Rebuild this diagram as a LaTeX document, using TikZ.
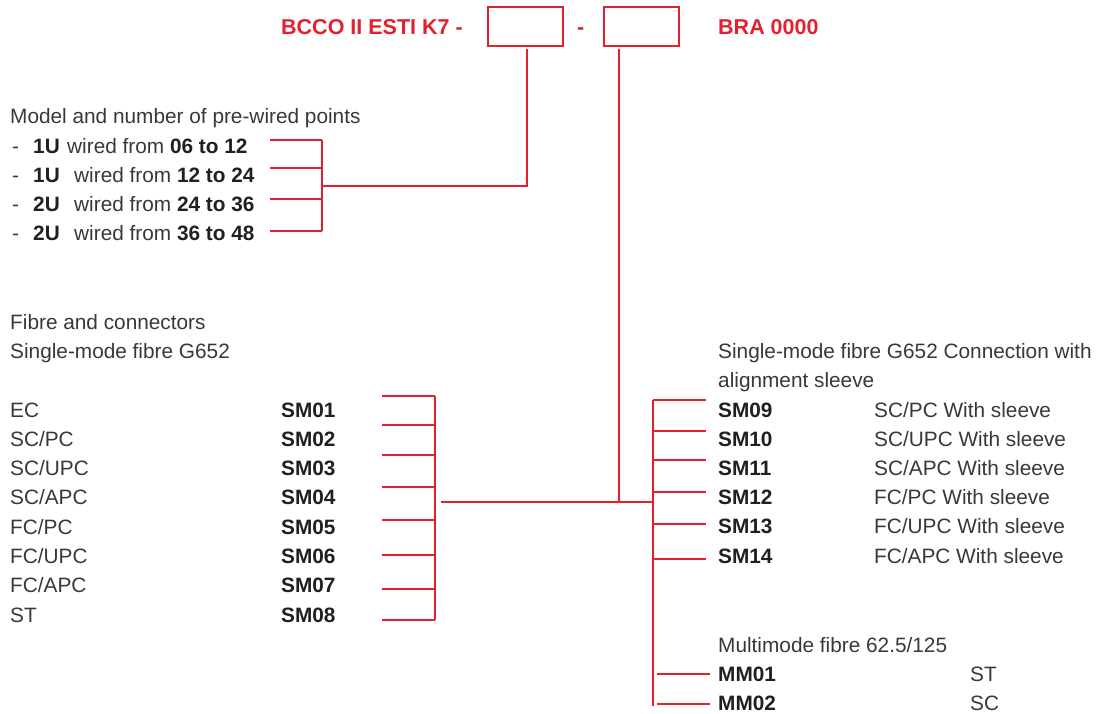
\documentclass[tikz,border=0pt]{standalone}
\usepackage{fontspec}
\setmainfont{Liberation Sans}
\definecolor{orderred}{HTML}{E3202E}
\definecolor{bodygrey}{HTML}{383838}
\definecolor{codegrey}{HTML}{231F20}

\begin{document}
\begin{tikzpicture}[
  x=1pt,
  y=-1pt,
  line join=miter,
  desc/.style={anchor=base west,inner sep=0pt,text=bodygrey,font=\fontsize{20.8}{24}\selectfont},
  code/.style={anchor=base west,inner sep=0pt,text=codegrey,font=\fontsize{20.8}{24}\selectfont\bfseries},
  ordertxt/.style={anchor=base west,inner sep=0pt,text=orderred,font=\fontsize{21.5}{25}\selectfont\bfseries},
  slot/.style={draw=orderred,line width=1.1pt,minimum width=75pt,minimum height=39pt,inner sep=0pt,outer sep=3pt},
  wire/.style={draw=orderred,line width=1.1pt}
]
  \useasboundingbox (0,0) rectangle (1098,714);

  % Order code with its two open slots.
  \node[ordertxt] (prefix) at (281,35) {BCCO II ESTI K7 -};
  \node[slot] (box1) at (525.5,26.5) {};
  \node[ordertxt] (dash) at (577,35) {-};
  \node[slot] (box2) at (641.5,26.5) {};
  \node[ordertxt] (suffix) at (718,35) {BRA 0000};

  % First slot: model and pre-wired points.
  \node[desc] (modeltitle) at (10,124) {Model and number of pre-wired points};
  \foreach \unit/\range/\wx/\ty [count=\i] in {1U/06 to 12/67/140, 1U/12 to 24/74/168, 2U/24 to 36/74/199, 2U/36 to 48/74/231} {
    \pgfmathsetmacro{\by}{124+29.2*\i}
    \node[desc] (modeldash\i) at (12,\by) {-};
    \node[code] (modelunit\i) at (33,\by) {\unit};
    \node[desc] (modelrange\i) at (\wx,\by) {wired from \textcolor{codegrey}{\bfseries\range}};
    \coordinate (modeltick\i) at (270,\ty);
  }
  \coordinate (modelbus) at (322,186);
  \coordinate (modeljoin) at (527,186);
  \foreach \i in {1,...,4} {
    \draw[wire] (modeltick\i) -- (modeltick\i -| modelbus);
  }
  \draw[wire] (modeltick1 -| modelbus) -- (modeltick4 -| modelbus);
  \draw[wire] (modelbus) -- (modeljoin) -- (box1.south -| modeljoin);

  % Second slot, left comb: single-mode connectors.
  \node[desc] (fibtitle1) at (10,329) {Fibre and connectors};
  \node[desc] (fibtitle2) at (10,358) {Single-mode fibre G652};
  \foreach \code/\name/\ty [count=\i] in {SM01/EC/396, SM02/{SC/PC}/425, SM03/{SC/UPC}/455, SM04/{SC/APC}/487, SM05/{FC/PC}/520, SM06/{FC/UPC}/555, SM07/{FC/APC}/589, SM08/ST/620} {
    \pgfmathsetmacro{\by}{417+29.3*(\i-1)}
    \node[desc] (fibname\i) at (10,\by) {\name};
    \node[code] (fibcode\i) at (281,\by) {\code};
    \coordinate (fibtick\i) at (382,\ty);
  }
  \coordinate (fibbus) at (435,502);
  \foreach \i in {1,...,8} {
    \draw[wire] (fibtick\i) -- (fibtick\i -| fibbus);
  }
  \draw[wire] (fibtick1 -| fibbus) -- (fibtick8 -| fibbus);

  \coordinate (fibstub) at (441,502);
  \coordinate (fibjoin) at (619,502);
  \coordinate (sleevebus) at (653,502);
  \coordinate (busend) at (653,706);
  \draw[wire] (fibstub) -- (sleevebus);
  \draw[wire] (box2.south -| fibjoin) -- (fibjoin);

  % Second slot, right comb: sleeve connections and multimode.
  \node[desc] (sleevetitle1) at (718,358) {Single-mode fibre G652 Connection with};
  \node[desc] (sleevetitle2) at (718,387) {alignment sleeve};
  \foreach \code/\name/\ty [count=\i] in {SM09/{SC/PC With sleeve}/400, SM10/{SC/UPC With sleeve}/431, SM11/{SC/APC With sleeve}/460, SM12/{FC/PC With sleeve}/492, SM13/{FC/UPC With sleeve}/524, SM14/{FC/APC With sleeve}/559} {
    \pgfmathsetmacro{\by}{417+29.2*(\i-1)}
    \node[code] (sleevecode\i) at (718,\by) {\code};
    \node[desc] (sleevename\i) at (874,\by) {\name};
    \coordinate (sleevetick\i) at (706,\ty);
    \draw[wire] (sleevetick\i -| sleevebus) -- (sleevetick\i);
  }
  \draw[wire] (sleevetick1 -| sleevebus) -- (busend);

  \node[desc] (mmtitle) at (718,652) {Multimode fibre 62.5/125};
  \foreach \code/\name/\ty [count=\i] in {MM01/ST/674, MM02/SC/704} {
    \pgfmathsetmacro{\by}{681+29.2*(\i-1)}
    \node[code] (mmcode\i) at (718,\by) {\code};
    \node[desc] (mmname\i) at (970,\by) {\name};
    \coordinate (mmtick\i) at (710,\ty);
    \draw[wire] ([xshift=4pt]mmtick\i -| sleevebus) -- (mmtick\i);
  }
\end{tikzpicture}
\end{document}
